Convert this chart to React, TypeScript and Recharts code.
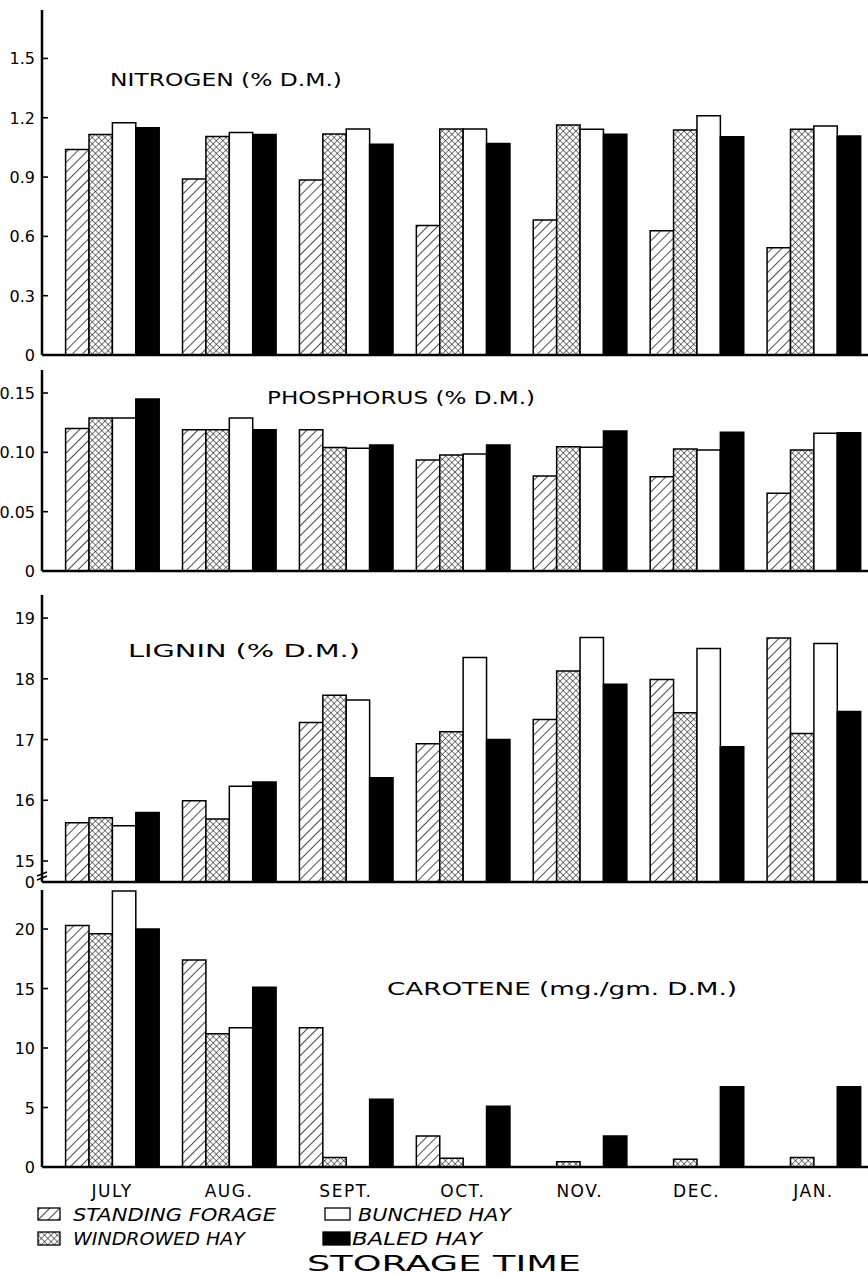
import React from 'react';
import { BarChart, Bar, XAxis, YAxis } from 'recharts';

const months = ['JULY', 'AUG.', 'SEPT.', 'OCT.', 'NOV.', 'DEC.', 'JAN.'];

const nitrogenStanding = [1.04, 0.89, 0.885, 0.655, 0.683, 0.629, 0.543];
const nitrogenWindrowed = [1.115, 1.105, 1.118, 1.143, 1.163, 1.138, 1.142];
const nitrogenBunched = [1.175, 1.125, 1.143, 1.143, 1.142, 1.21, 1.158];
const nitrogenBaled = [1.15, 1.115, 1.066, 1.07, 1.116, 1.104, 1.108];
const nitrogenTicks = [0, 0.3, 0.6, 0.9, 1.2, 1.5];

const phosStanding = [0.12, 0.119, 0.119, 0.0935, 0.08, 0.0795, 0.0655];
const phosWindrowed = [0.129, 0.119, 0.104, 0.0977, 0.1048, 0.1028, 0.102];
const phosBunched = [0.129, 0.129, 0.1034, 0.0986, 0.1042, 0.102, 0.116];
const phosBaled = [0.145, 0.119, 0.1062, 0.1062, 0.118, 0.1169, 0.1166];
const phosTicks = [0, 0.05, 0.1, 0.15];

const ligninStanding = [15.63, 15.99, 17.28, 16.93, 17.33, 17.99, 18.67];
const ligninWindrowed = [15.71, 15.69, 17.73, 17.13, 18.13, 17.44, 17.1];
const ligninBunched = [15.58, 16.23, 17.65, 18.35, 18.68, 18.5, 18.58];
const ligninBaled = [15.8, 16.3, 16.37, 17.0, 17.91, 16.88, 17.46];
const ligninBase = 14.654;
const ligninTicks = [ligninBase, 15, 16, 17, 18, 19];

const caroteneStanding = [20.3, 17.4, 11.7, 2.6, null, null, null];
const caroteneWindrowed = [19.6, 11.2, 0.8, 0.73, 0.45, 0.65, 0.8];
const caroteneBunched = [23.2, 11.7, null, null, null, null, null];
const caroteneBaled = [20.0, 15.1, 5.7, 5.1, 2.6, 6.75, 6.75];
const caroteneTicks = [0, 5, 10, 15, 20];

const seriesNames = ['STANDING FORAGE', 'WINDROWED HAY', 'BUNCHED HAY', 'BALED HAY'];

const build = (a: (number | null)[], b: (number | null)[], c: (number | null)[], d: (number | null)[]) =>
  months.map((m, i) => ({ m, s: a[i], w: b[i], bu: c[i], ba: d[i] }));

const nitrogenData = build(nitrogenStanding, nitrogenWindrowed, nitrogenBunched, nitrogenBaled);
const phosData = build(phosStanding, phosWindrowed, phosBunched, phosBaled);
const ligninData = build(ligninStanding, ligninWindrowed, ligninBunched, ligninBaled);
const caroteneData = build(caroteneStanding, caroteneWindrowed, caroteneBunched, caroteneBaled);

const FONT = '"DejaVu Sans", sans-serif';

const YTick = (props: any) => {
  const { x, y, payload, fmt, brk } = props;
  const ax = x + 7;
  const isBase = brk && payload.value < 14.9;
  return (
    <g>
      {!isBase && <line x1={ax} x2={ax + 6} y1={y} y2={y} stroke="#000" strokeWidth={1.6} />}
      {isBase && (
        <path d={`M${ax - 5} ${y - 6} L${ax + 5} ${y - 10} M${ax - 5} ${y - 2} L${ax + 5} ${y - 6}`} stroke="#000" strokeWidth={1.4} fill="none" />
      )}
      <text x={x} y={y} dy={6} textAnchor="end" fontSize={16} fontFamily={FONT} fill="#000">
        {fmt(payload.value)}
      </text>
    </g>
  );
};

const XTick = (props: any) => {
  const { x, y, payload } = props;
  return (
    <text x={x} y={y} dy={22} textAnchor="middle" fontSize={17} fontFamily={FONT} letterSpacing={1.5} fill="#000">
      {payload.value}
    </text>
  );
};

function renderBars() {
  const common = { stroke: '#000', strokeWidth: 1.5, isAnimationActive: false } as any;
  return [
    <Bar key="s" dataKey="s" name={seriesNames[0]} fill="url(#hatchPat)" {...common} />,
    <Bar key="w" dataKey="w" name={seriesNames[1]} fill="url(#crossPat)" {...common} />,
    <Bar key="bu" dataKey="bu" name={seriesNames[2]} fill="#fff" {...common} />,
    <Bar key="ba" dataKey="ba" name={seriesNames[3]} fill="#000" {...common} />,
  ];
}

type PanelProps = {
  top: number;
  plotHeight: number;
  data: any[];
  domain: [number, number];
  ticks: number[];
  fmt: (v: number) => string;
  showX?: boolean;
  brk?: boolean;
};

const Panel = ({ top, plotHeight, data, domain, ticks, fmt, showX, brk }: PanelProps) => {
  const xh = showX ? 40 : 2;
  const mb = showX ? 0 : 12;
  const height = 10 + plotHeight + xh + mb;
  return (
    <div style={{ position: 'absolute', left: 0, top }}>
      <BarChart
        width={872}
        height={height}
        data={data}
        margin={{ top: 10, right: 0, bottom: mb, left: 0 }}
        barGap={0}
        barSize={23.4}
      >
        <XAxis
          dataKey="m"
          height={xh}
          padding={{ left: 11.6, right: 0 }}
          axisLine={{ stroke: '#000', strokeWidth: 2.5 }}
          tickLine={false}
          tick={showX ? <XTick /> : false}
          interval={0}
        />
        <YAxis
          width={42}
          domain={domain}
          ticks={ticks}
          allowDataOverflow
          axisLine={{ stroke: '#000', strokeWidth: 2.5 }}
          tickLine={false}
          tickSize={5}
          tickMargin={2}
          interval={0}
          tick={<YTick fmt={fmt} brk={brk} />}
        />
        {renderBars()}
      </BarChart>
    </div>
  );
};

const Title = ({ x, y, len, text, size = 17 }: { x: number; y: number; len: number; text: string; size?: number }) => (
  <text x={x} y={y} fontSize={size} fontFamily={FONT} textLength={len} lengthAdjust="spacingAndGlyphs" fill="#000">
    {text}
  </text>
);

export default function App() {
  return (
    <div style={{ position: 'absolute', left: 0, top: 0, width: 868, height: 1277, overflow: 'hidden', background: '#fff' }}>
      <svg width={0} height={0} style={{ position: 'absolute' }}>
        <defs>
          <pattern id="hatchPat" patternUnits="userSpaceOnUse" width={7} height={7} patternTransform="rotate(45)">
            <rect width={7} height={7} fill="#fff" />
            <line x1={0} y1={0} x2={0} y2={7} stroke="#000" strokeWidth={1.4} />
          </pattern>
          <pattern id="crossPat" patternUnits="userSpaceOnUse" width={4.5} height={4.5} patternTransform="rotate(45)">
            <rect width={4.5} height={4.5} fill="#fff" />
            <line x1={0} y1={0} x2={0} y2={4.5} stroke="#000" strokeWidth={1} />
            <line x1={0} y1={0} x2={4.5} y2={0} stroke="#000" strokeWidth={1} />
          </pattern>
        </defs>
      </svg>

      <Panel top={0} plotHeight={345} data={nitrogenData} domain={[0, 1.745]} ticks={nitrogenTicks}
        fmt={(v) => (v === 0 ? '0' : v.toFixed(1))} />
      <Panel top={360} plotHeight={201} data={phosData} domain={[0, 0.1694]} ticks={phosTicks}
        fmt={(v) => (v === 0 ? '0' : v.toFixed(2))} />
      <Panel top={585} plotHeight={287} data={ligninData} domain={[ligninBase, 19.38]} ticks={ligninTicks}
        fmt={(v) => (v < 14.9 ? '0' : String(v))} brk />
      <Panel top={880} plotHeight={277} data={caroteneData} domain={[0, 23.28]} ticks={caroteneTicks}
        fmt={(v) => String(v)} showX />

      <svg width={868} height={1277} style={{ position: 'absolute', left: 0, top: 0, pointerEvents: 'none' }}>
        <Title x={110} y={86} len={232} text="NITROGEN (% D.M.)" />
        <Title x={267} y={404} len={268} text="PHOSPHORUS (% D.M.)" />
        <Title x={128} y={657} len={232} text="LIGNIN (% D.M.)" />
        <Title x={387} y={995} len={350} text="CAROTENE (mg./gm. D.M.)" />

        <rect x={38} y={1208} width={22} height={12} fill="url(#hatchPat)" stroke="#000" strokeWidth={1.3} />
        <text x={73} y={1221} fontSize={17} fontStyle="italic" fontFamily={FONT} textLength={203} lengthAdjust="spacingAndGlyphs">{seriesNames[0]}</text>
        <rect x={325} y={1208} width={25} height={12} fill="#fff" stroke="#000" strokeWidth={1.3} />
        <text x={358} y={1221} fontSize={17} fontStyle="italic" fontFamily={FONT} textLength={153} lengthAdjust="spacingAndGlyphs">{seriesNames[2]}</text>
        <rect x={38} y={1232} width={22} height={13} fill="url(#crossPat)" stroke="#000" strokeWidth={1.3} />
        <text x={73} y={1245} fontSize={17} fontStyle="italic" fontFamily={FONT} textLength={172} lengthAdjust="spacingAndGlyphs">{seriesNames[1]}</text>
        <rect x={323} y={1232} width={27} height={13} fill="#000" stroke="#000" strokeWidth={1.3} />
        <text x={352} y={1245} fontSize={17} fontStyle="italic" fontFamily={FONT} textLength={130} lengthAdjust="spacingAndGlyphs">{seriesNames[3]}</text>

        <text x={307} y={1271} fontSize={22} fontFamily={FONT} textLength={274} lengthAdjust="spacingAndGlyphs">STORAGE TIME</text>
      </svg>
    </div>
  );
}
